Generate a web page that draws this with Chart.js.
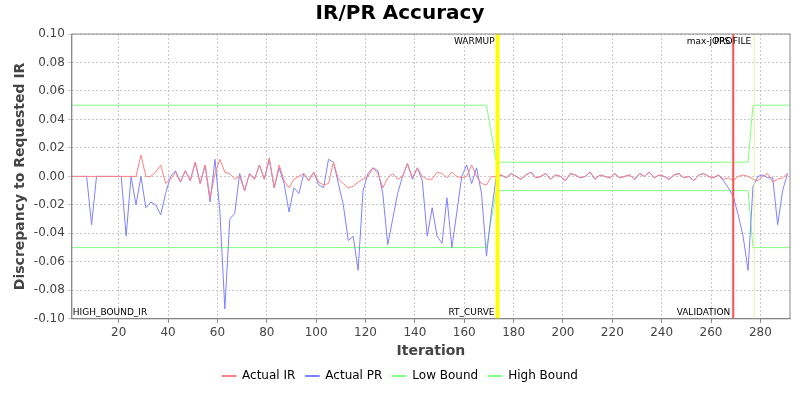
<!DOCTYPE html>
<html>
<head>
<meta charset="utf-8">
<script src="https://cdn.jsdelivr.net/npm/chart.js@4/dist/chart.umd.min.js"></script>
<style>
  body { margin: 0; background: #fff; }
</style>
</head>
<body>
<canvas id="accuracyChart" width="800" height="400"></canvas>
<script>
// iterations 1,3,5,...,291 ; values in thousandths
const iterations = [];
for (let i = 1; i <= 291; i += 2) iterations.push(i);

const noise = [1,-1,2,0,-2,1,3,-1,0,2,-2,1,0,-3,2,1,-1,0,3,-2,1,0,-1,2,-1,0,1,-2,2,0,3,-1,1,0,-2,1,2,-1,0,-3,1,2,0,-1,1];

const irHead = [0,0,0,0,0,0,0,0,0,0,0,0,0,0,15,0,0,3,8,-5,-2,3,-4,4,-3,10,-5,8,-15,2,12,3,2,-2,0,-10,2,-2,8,-2,13,-8,8,-3,-8,-2,0,2,-3,3,-4,-6,-5,10,-2,-5,-8,-7,-4,-2,0,6,2,-8,-1,2,-2,0,9,-1,6,0,-2,-2,3,2,-1,3,0,-1,0,8,0,-5,-6,0,0];
const prHead = [0,0,0,0,-34,0,0,0,0,0,0,-42,0,-20,0,-22,-18,-20,-27,-12,0,4,-4,4,-3,10,-5,8,-18,12,-25,-93,-30,-26,2,-10,2,-2,8,-2,12,-8,6,-5,-25,-8,-12,2,-3,3,-6,-8,12,10,-5,-20,-45,-42,-66,-10,2,6,4,-12,-48,-30,-12,0,9,-2,6,-3,-42,-22,-42,-47,-15,-50,-25,0,8,-5,6,-12,-56,-25,0];
const irTail = [-2,-1,-3,0,1,0,-2,-3,0,2,-4,-2,-1,2];
const prTail = [-3,-8,-14,-27,-42,-66,-7,0,1,-1,-1,-34,-10,2];

const actualIR = irHead.concat(noise, irTail);
const actualPR = prHead.concat(noise, prTail);

const highBoundX = [1, 169, 173, 275, 277, 292];
const highBoundY = [50, 50, 10, 10, 50, 50];
const lowBoundX = [1, 169, 173, 275, 277, 292];
const lowBoundY = [-50, -50, -10, -10, -50, -50];

const markers = [
  { x: 173.5, color: "#ffff00", width: 4, top: "WARMUP", bottom: "RT_CURVE" },
  { x: 269, color: "#ff5050", width: 2, top: "max-jOPS", bottom: "VALIDATION" },
  { x: 277.5, color: "#e8f0a0", width: 1, top: "PROFILE", bottom: "" }
];

const pts = (xs, ys) => xs.map((x, i) => ({ x: x, y: ys[i] / 1000 }));

// vertical markers and their labels
const markerPlugin = {
  id: "markers",
  afterDatasetsDraw(chart) {
    const { ctx, chartArea, scales } = chart;
    ctx.save();
    ctx.font = "9px 'DejaVu Sans'";
    ctx.fillStyle = "#000";
    markers.forEach(m => {
      const px = scales.x.getPixelForValue(m.x);
      ctx.strokeStyle = m.color;
      ctx.lineWidth = m.width;
      ctx.beginPath();
      ctx.moveTo(px, chartArea.top);
      ctx.lineTo(px, chartArea.bottom);
      ctx.stroke();
      ctx.textAlign = "right";
      ctx.textBaseline = "top";
      ctx.fillText(m.top, px - 3, chartArea.top + 3);
      ctx.textBaseline = "bottom";
      if (m.bottom) ctx.fillText(m.bottom, px - 3, chartArea.bottom - 2);
    });
    ctx.textAlign = "left";
    ctx.textBaseline = "bottom";
    ctx.fillText("HIGH_BOUND_IR", chartArea.left + 1, chartArea.bottom - 2);
    ctx.strokeStyle = "#888";
    ctx.lineWidth = 1;
    ctx.strokeRect(chartArea.left, chartArea.top, chartArea.right - chartArea.left, chartArea.bottom - chartArea.top);
    ctx.restore();
  }
};

new Chart(document.getElementById("accuracyChart"), {
  type: "line",
  data: {
    datasets: [
      { label: "Actual IR", data: pts(iterations, actualIR), borderColor: "#ff8080", backgroundColor: "#ff8080" },
      { label: "Actual PR", data: pts(iterations, actualPR), borderColor: "#8080ff", backgroundColor: "#8080ff" },
      { label: "Low Bound", data: pts(lowBoundX, lowBoundY), borderColor: "#80ff80", backgroundColor: "#80ff80" },
      { label: "High Bound", data: pts(highBoundX, highBoundY), borderColor: "#80ff80", backgroundColor: "#80ff80" }
    ]
  },
  options: {
    responsive: false,
    animation: false,
    layout: { padding: { left: 10, right: 10, top: 0, bottom: 8 } },
    elements: { point: { radius: 0 }, line: { borderWidth: 1, tension: 0 } },
    plugins: {
      title: { display: true, text: "IR/PR Accuracy", color: "#000", font: { family: "DejaVu Sans", size: 20, weight: "bold" }, padding: { top: 2, bottom: 8 } },
      legend: {
        position: "bottom",
        labels: { color: "#000", font: { family: "DejaVu Sans", size: 12 }, boxWidth: 14, boxHeight: 1, padding: 10 }
      },
      tooltip: { enabled: false }
    },
    scales: {
      x: {
        type: "linear", min: 1, max: 292,
        afterBuildTicks: axis => {
          const t = [];
          for (let v = 20; v <= 280; v += 20) t.push({ value: v });
          axis.ticks = t;
        },
        grid: { color: "#c8c8c8", tickColor: "#888", drawTicks: true, tickLength: 4 },
        border: { dash: [2, 2], color: "#888" },
        ticks: { color: "#444", maxRotation: 0, font: { family: "DejaVu Sans", size: 12 } },
        title: { display: true, text: "Iteration", color: "#444", font: { family: "DejaVu Sans", size: 14, weight: "bold" }, padding: 0 }
      },
      y: {
        min: -0.1, max: 0.1,
        grid: { color: "#c8c8c8", tickLength: 4 },
        border: { dash: [2, 2], color: "#888" },
        ticks: { stepSize: 0.02, color: "#444", font: { family: "DejaVu Sans", size: 12 }, callback: v => v.toFixed(2) },
        title: { display: true, text: "Discrepancy to Requested IR", color: "#444", font: { family: "DejaVu Sans", size: 14, weight: "bold" }, padding: 2 }
      }
    }
  },
  plugins: [markerPlugin]
});
</script>
</body>
</html>
